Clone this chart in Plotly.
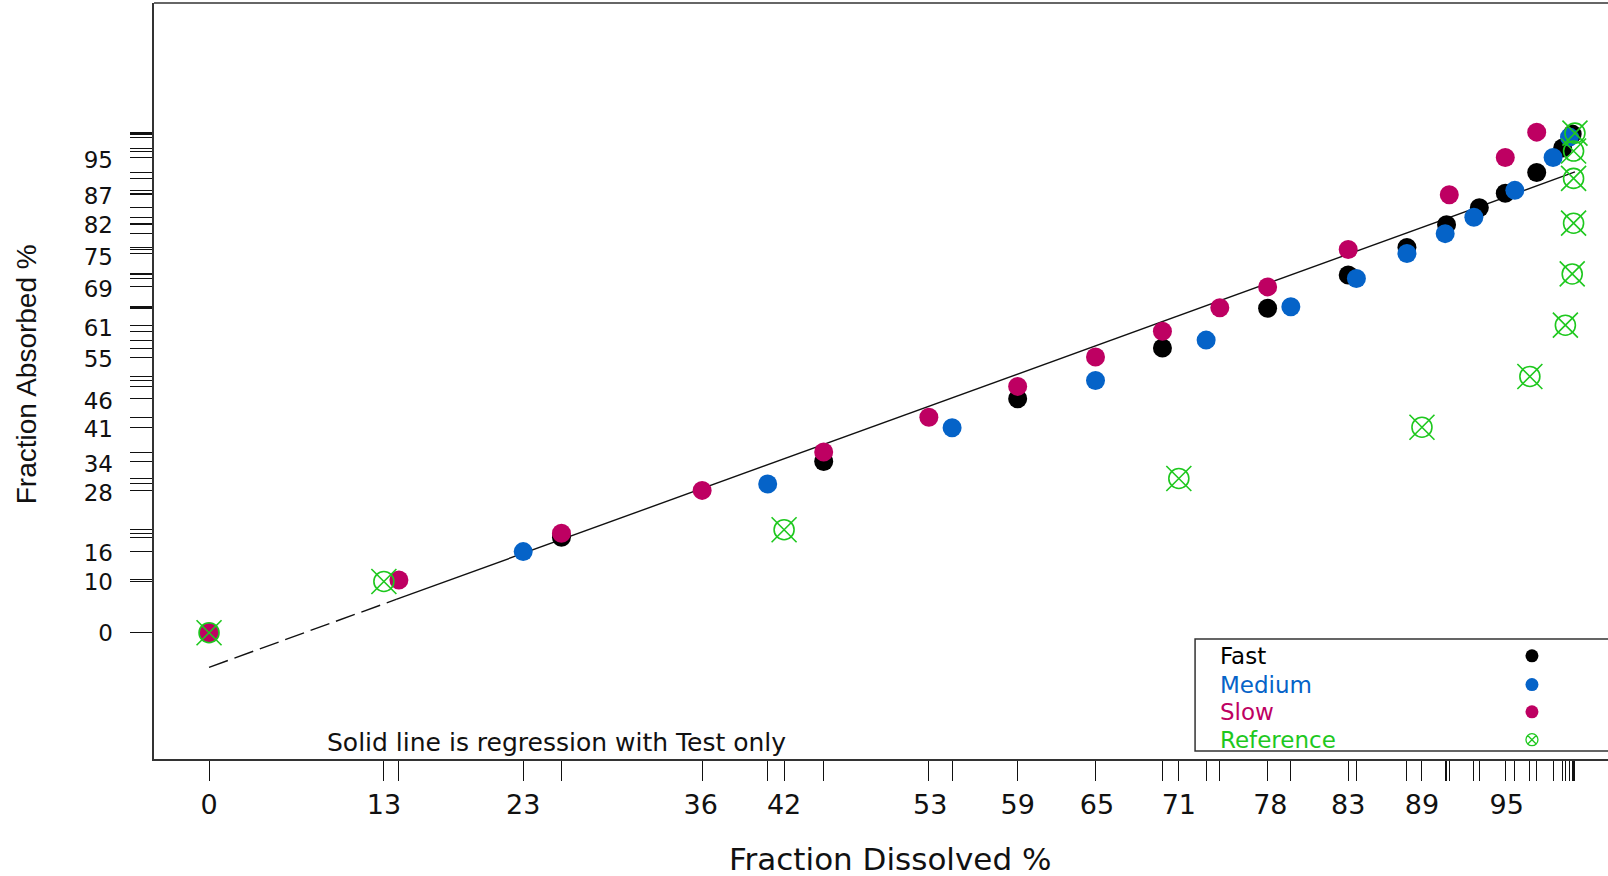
import plotly.graph_objects as go

# ---------------- data ----------------
fast_x = [0, 25.8, 45.0, 59.2, 69.8, 77.5, 83.4, 87.7, 90.6, 93.0, 94.9, 97.2, 99.1, 99.8]
fast_y = [0, 19.2, 34.4, 47.0, 57.2, 65.2, 71.9, 77.4, 82.0, 85.4, 88.3, 92.5, 97.4, 100.2]

medium_x = [0, 23.0, 40.9, 54.4, 64.9, 73.0, 79.2, 84.0, 87.7, 90.5, 92.6, 95.6, 98.4, 99.6]
medium_y = [0, 16.3, 29.9, 41.2, 50.7, 58.8, 65.5, 71.2, 76.2, 80.2, 83.5, 88.9, 95.5, 99.6]

slow_x = [0, 13.9, 25.8, 36.1, 45.0, 52.7, 59.2, 64.9, 69.8, 74.0, 77.5, 83.4, 90.8, 94.9, 97.2]
slow_y = [0, 10.6, 20.0, 28.6, 36.3, 43.3, 49.5, 55.4, 60.6, 65.3, 69.5, 77.0, 88.0, 95.5, 100.6]

ref_x = [0, 12.8, 42.1, 71.0, 88.8, 96.7, 99.3, 99.8, 99.9, 99.9, 99.9, 100.0]
ref_y = [0, 10.3, 20.7, 31.0, 41.3, 51.5, 61.8, 72.1, 82.3, 91.3, 96.8, 100.4]

reg_x_dash = [0.0, 13.7]
reg_y_dash = [-6.95, 6.69]
reg_x_solid = [13.7, 100.0]
reg_y_solid = [6.69, 92.6]

x_labels = ["0", "13", "23", "36", "42", "53", "59", "65", "71", "78", "83", "89", "95"]
x_label_vals = [0, 12.8, 23, 36, 42.1, 52.8, 59.2, 65, 71, 77.7, 83.4, 88.8, 95]
y_labels = ["0", "10", "16", "28", "34", "41", "46", "55", "61", "69", "75", "82", "87", "95"]
y_label_vals = [0, 10.3, 16, 28, 34, 40.9, 46.6, 55, 61.2, 69, 75.5, 81.9, 87.7, 95]

series_names = ["Fast", "Medium", "Slow", "Reference"]
series_colors = ["#000000", "#0563c8", "#be0062", "#1ec81e"]

X_RANGE = [-4.03, 102.42]
Y_RANGE = [-25.38, 126.55]
FONT = "DejaVu Sans"

x_rug = sorted(set(fast_x + medium_x + slow_x + ref_x))
y_rug = sorted(set(fast_y + medium_y + slow_y + ref_y))

fig = go.Figure()

# regression line
fig.add_trace(go.Scatter(x=reg_x_dash, y=reg_y_dash, mode="lines",
                         line=dict(color="#111111", width=1.4, dash="20px,7px"),
                         showlegend=False, hoverinfo="skip"))
fig.add_trace(go.Scatter(x=reg_x_solid, y=reg_y_solid, mode="lines",
                         line=dict(color="#111111", width=1.4),
                         showlegend=False, hoverinfo="skip"))

for xs, ys, name, col in [(fast_x, fast_y, "Fast", series_colors[0]),
                          (medium_x, medium_y, "Medium", series_colors[1]),
                          (slow_x, slow_y, "Slow", series_colors[2])]:
    fig.add_trace(go.Scatter(x=xs, y=ys, mode="markers", name=name,
                             marker=dict(symbol="circle", size=19, color=col,
                                         line=dict(width=0)),
                             showlegend=False))

# reference: open ellipse with an X across it
fig.add_trace(go.Scatter(x=ref_x, y=ref_y, mode="markers", name="Reference",
                         marker=dict(symbol="circle-open", size=20, color=series_colors[3],
                                     line=dict(width=1.6, color=series_colors[3])),
                         showlegend=False))
fig.add_trace(go.Scatter(x=ref_x, y=ref_y, mode="markers", name="Reference",
                         marker=dict(symbol="x-thin-open", size=25, color=series_colors[3],
                                     line=dict(width=1.6, color=series_colors[3])),
                         showlegend=False, hoverinfo="skip"))

# tick-label carrier (overlay axes)
fig.add_trace(go.Scatter(x=[X_RANGE[0]], y=[Y_RANGE[0]], xaxis="x3", yaxis="y3",
                         mode="markers", marker=dict(opacity=0), showlegend=False,
                         hoverinfo="skip"))

# custom legend swatches (paper-like overlay axes 0..1)
leg_rows_y = [0.1365, 0.0985, 0.0624, 0.0255]
leg_x = 0.9477
for i in range(3):
    fig.add_trace(go.Scatter(x=[leg_x], y=[leg_rows_y[i]], xaxis="x2", yaxis="y2",
                             mode="markers",
                             marker=dict(symbol="circle", size=13, color=series_colors[i]),
                             showlegend=False, hoverinfo="skip"))
fig.add_trace(go.Scatter(x=[leg_x], y=[leg_rows_y[3]], xaxis="x2", yaxis="y2",
                         mode="markers",
                         marker=dict(symbol="circle-x-open", size=12, color=series_colors[3],
                                     line=dict(width=1.3, color=series_colors[3])),
                         showlegend=False, hoverinfo="skip"))

annotations = []
for i, name in enumerate(series_names):
    annotations.append(dict(x=0.7318, y=leg_rows_y[i], xref="paper", yref="paper",
                            xanchor="left", yanchor="middle", showarrow=False,
                            text=name, font=dict(family=FONT, size=23, color=series_colors[i])))
annotations.append(dict(x=0.2765, y=0.0212, xref="paper", yref="paper",
                        xanchor="center", yanchor="middle", showarrow=False,
                        text="Solid line is regression with Test only",
                        font=dict(family=FONT, size=25, color="#111111")))
annotations.append(dict(x=0.506, y=-0.1323, xref="paper", yref="paper",
                        xanchor="center", yanchor="middle", showarrow=False,
                        text="Fraction Dissolved %",
                        font=dict(family=FONT, size=31, color="#111111")))
annotations.append(dict(x=-0.088, y=0.509, xref="paper", yref="paper",
                        xanchor="center", yanchor="middle", showarrow=False, textangle=-90,
                        text="Fraction Absorbed %",
                        font=dict(family="Liberation Sans", size=28, color="#111111")))

shapes = [
    dict(type="line", xref="paper", yref="paper", x0=0, x1=1.01, y0=1, y1=1,
         line=dict(color="#333333", width=1.5)),
    dict(type="rect", xref="paper", yref="paper", x0=0.716, x1=1.01, y0=0.0106, y1=0.1587,
         line=dict(color="#333333", width=1.5), fillcolor="rgba(0,0,0,0)"),
]

fig.update_layout(
    width=1608, height=876,
    margin=dict(l=154, r=0, t=3, b=117),
    paper_bgcolor="white", plot_bgcolor="white",
    font=dict(family=FONT, color="#111111"),
    showlegend=False,
    xaxis=dict(range=X_RANGE, showline=True, linecolor="#333333", linewidth=1.5,
               ticks="outside", ticklen=20, tickwidth=1.2, tickcolor="#111111",
               tickmode="array", tickvals=x_rug, showticklabels=False,
               showgrid=False, zeroline=False, anchor="y"),
    yaxis=dict(range=Y_RANGE, showline=True, linecolor="#333333", linewidth=1.5,
               ticks="outside", ticklen=22, tickwidth=1.2, tickcolor="#111111",
               tickmode="array", tickvals=y_rug, showticklabels=False,
               showgrid=False, zeroline=False, anchor="x"),
    xaxis2=dict(range=[0, 1], overlaying="x", anchor="y2", visible=False),
    yaxis2=dict(range=[0, 1], overlaying="y", anchor="x2", visible=False),
    xaxis3=dict(range=X_RANGE, overlaying="x", anchor="y3", side="bottom",
                tickmode="array", tickvals=x_label_vals, ticktext=x_labels,
                ticks="", showline=False, showgrid=False, zeroline=False,
                tickfont=dict(family=FONT, size=27, color="#111111"),
                ticklabelstandoff=27),
    yaxis3=dict(range=Y_RANGE, overlaying="y", anchor="x3", side="left",
                tickmode="array", tickvals=y_label_vals, ticktext=y_labels,
                ticks="", showline=False, showgrid=False, zeroline=False,
                tickfont=dict(family=FONT, size=23, color="#111111"),
                ticklabelstandoff=40),
    annotations=annotations,
    shapes=shapes,
)

fig.write_html("out.html")
